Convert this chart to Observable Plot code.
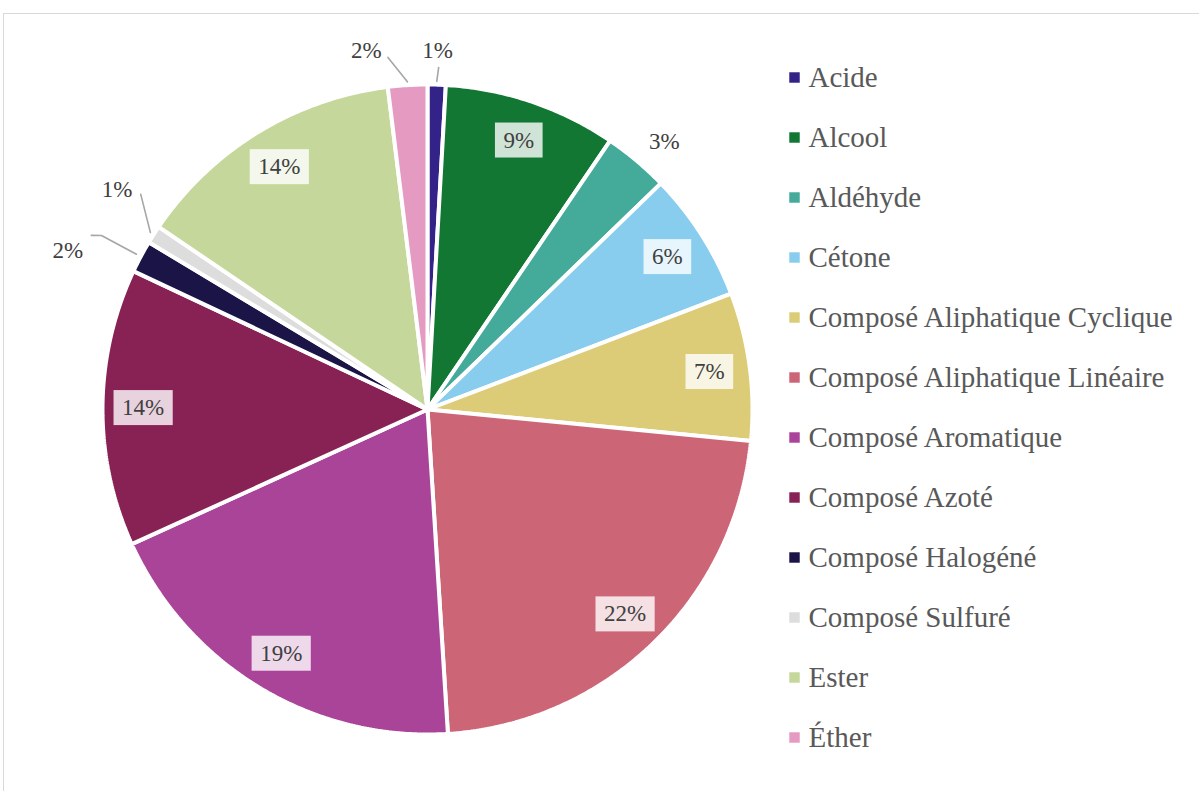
<!DOCTYPE html>
<html><head><meta charset="utf-8">
<script src="https://cdn.jsdelivr.net/npm/d3@7"></script>
<script src="https://cdn.jsdelivr.net/npm/@observablehq/plot@0.6"></script>
<style>
html,body{margin:0;padding:0;background:#fff;overflow:hidden;}
#wrap{position:relative;width:1199px;height:791px;overflow:hidden;}
#frame{position:absolute;left:3px;top:13px;width:1300px;height:900px;border-left:1px solid #d9d9d9;border-top:1px solid #d9d9d9;}
#pie,#legend{position:absolute;top:0;}
#pie{left:0;width:780px}
#legend{left:780px;width:419px}
#wrap svg{max-width:none !important;}
#wrap svg text{font-family:"Liberation Serif","Times New Roman",serif !important;}
</style></head><body>
<div id="wrap"><div id="frame"></div><div id="pie"></div><div id="legend"></div></div>
<script>
// ---- data ----
const categories = ["Acide","Alcool","Aldéhyde","Cétone","Composé Aliphatique Cyclique","Composé Aliphatique Linéaire","Composé Aromatique","Composé Azoté","Composé Halogéné","Composé Sulfuré","Ester","Éther"];
const values = [0.9, 8.6, 3.25, 6.45, 7.35, 22.45, 19.2, 13.8, 1.6, 0.9, 13.55, 1.95];
const colors = ["#332288","#117733","#44AA99","#88CCEE","#DDCC77","#CC6677","#AA4499","#882255","#1B1446","#DDDDDD","#C5D79B","#E59AC2"];

// ---- layout config for labels (polar: angle offset in degrees, radius as fraction of R) ----
const outsideLayout = {
  "Acide": {label:[0,1.105], leader:[[0,1.01],[0.25,1.053]]},
  "Aldéhyde": {label:[1.45,1.10], leader:null},
  "Composé Halogéné": {label:[-4.2,1.21], leader:[[0,1.015],[0,1.137],[-0.7,1.165]]},
  "Composé Sulfuré": {label:[2.7,1.17], leader:[[0,1.012],[4.3,1.103]]},
  "Éther": {label:[-6.15,1.12], leader:[[0,1.01],[-2.9,1.09]]}
};
const insideR = 0.875;

// ---- derived geometry (unit circle, clockwise from north) ----
const total = d3.sum(values);
let acc = 0;
const slices = categories.map((c,i) => {
  const a0 = acc/total*360; acc += values[i]; const a1 = acc/total*360;
  return {name:c, a0, a1, mid:(a0+a1)/2, pct: values[i]/total*100};
});
const rad = d => d*Math.PI/180;
const polar = (deg, r) => ({x: r*Math.sin(rad(deg)), y: r*Math.cos(rad(deg))});
const polyPts = slices.flatMap(s => {
  const n = Math.max(2, Math.ceil((s.a1-s.a0)/0.5));
  const pts = [{name:s.name, x:0, y:0}];
  for (let k=0;k<=n;k++) pts.push({name:s.name, ...polar(s.a0+(s.a1-s.a0)*k/n, 1)});
  pts.push({name:s.name, x:0, y:0});
  return pts;
});
const fmt = s => Math.round(s.pct) + "%";
const insideLabels = slices.filter(s => !outsideLayout[s.name]).map(s => ({text: fmt(s), ...polar(s.mid, insideR)}));
const outsideLabels = slices.filter(s => outsideLayout[s.name]).map(s => {
  const [da, r] = outsideLayout[s.name].label;
  return {text: fmt(s), ...polar(s.mid+da, r)};
});
const leaderPts = slices.filter(s => outsideLayout[s.name] && outsideLayout[s.name].leader)
  .flatMap(s => outsideLayout[s.name].leader.map(([da, r]) => ({name:s.name, ...polar(s.mid+da, r)})));

const R = 325, cx = 427, cy = 409;

const pie = Plot.plot({
  width: 780, height: 791, margin: 0,
  x: {domain:[-1,1], range:[cx-R, cx+R], axis: null},
  y: {domain:[-1,1], range:[cy+R, cy-R], axis: null},
  color: {domain: categories, range: colors},
  style: {background: "transparent", overflow: "visible"},
  marks: [
    Plot.line(polyPts, {x:"x", y:"y", z:"name", fill:"name", stroke:"white", strokeWidth:4, strokeLinejoin:"miter", curve:"linear"}),
    Plot.line(leaderPts, {x:"x", y:"y", z:"name", stroke:"#a6a6a6", strokeWidth:1.6}),
    Plot.text(insideLabels, {x:"x", y:"y", text:"text", fontSize:23, fill:"#404040"}),
    Plot.text(outsideLabels, {x:"x", y:"y", text:"text", fontSize:23, fill:"#404040"})
  ]
});
document.getElementById("pie").appendChild(pie);

// white translucent boxes behind inside labels (first text mark group)
const textGroups = pie.querySelectorAll('g[aria-label="text"]');
const g = textGroups[0];
if (g) {
  g.querySelectorAll("text").forEach(t => {
    const b = t.getBBox();
    const rect = document.createElementNS("http://www.w3.org/2000/svg","rect");
    const padX = 8.5, padY = 5;
    rect.setAttribute("x", b.x - padX);
    rect.setAttribute("y", b.y - padY);
    rect.setAttribute("width", b.width + 2*padX);
    rect.setAttribute("height", b.height + 2*padY);
    rect.setAttribute("fill", "white");
    rect.setAttribute("fill-opacity", "0.8");
    const tr = t.getAttribute("transform");
    if (tr) rect.setAttribute("transform", tr);
    t.parentNode.insertBefore(rect, t);
  });
}

const legend = Plot.plot({
  width: 419, height: 791, margin: 0,
  x: {domain:[0,1], range:[14, 300], axis: null},
  y: {type:"point", domain: categories, range:[75, 739], padding: 0, axis: null},
  color: {domain: categories, range: colors},
  style: {background: "transparent", overflow: "visible"},
  marks: [
    Plot.dot(categories, {x: 0, y: d => d, fill: d => d, symbol: "square", r: 5.9, stroke: null}),
    Plot.text(categories, {x: 0, y: d => d, text: d => d, dx: 14, textAnchor: "start", fontSize: 29, fill: "#595959"})
  ]
});
document.getElementById("legend").appendChild(legend);
</script>
</body></html>
